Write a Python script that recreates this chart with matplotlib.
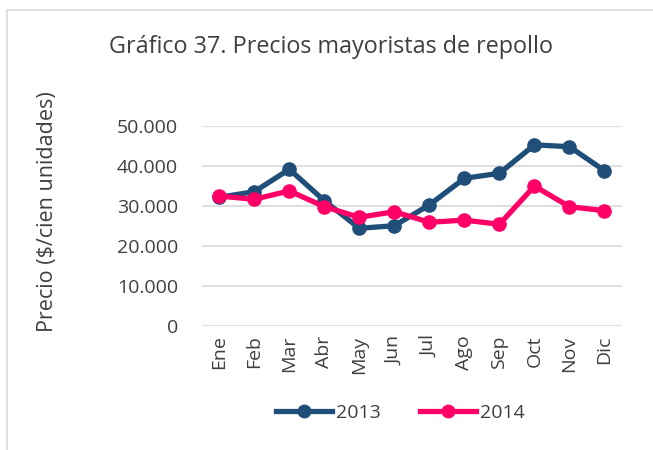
import matplotlib
matplotlib.use("Agg")
import matplotlib.pyplot as plt
from matplotlib.lines import Line2D
from matplotlib.ticker import FuncFormatter

plt.rcParams["font.family"] = ["Open Sans", "DejaVu Sans"]

meses = ["Ene", "Feb", "Mar", "Abr", "May", "Jun",
         "Jul", "Ago", "Sep", "Oct", "Nov", "Dic"]
precios_2013 = [32100, 33500, 39100, 31250, 24350, 25000,
                30200, 36850, 38100, 45200, 44750, 38750]
precios_2014 = [32400, 31600, 33700, 29750, 27100, 28500,
                25850, 26400, 25350, 34900, 29750, 28750]
y_ticks = [0, 10000, 20000, 30000, 40000, 50000]

color_2013 = "#1F4E79"
color_2014 = "#FF0066"
text_color = "#3F3F3F"

fig = plt.figure(figsize=(6.53, 4.5), dpi=100)
ax = fig.add_axes([0.309, 0.2762, 0.6435, 0.4445])

x = range(len(meses))
ax.plot(x, precios_2013, color=color_2013, linewidth=3.8, marker="o",
        markersize=9.5, label="2013", solid_capstyle="round", zorder=3)
ax.plot(x, precios_2014, color=color_2014, linewidth=3.8, marker="o",
        markersize=9.5, label="2014", solid_capstyle="round", zorder=4)

ax.set_xlim(-0.5, len(meses) - 0.5)
ax.set_ylim(0, 50000)
ax.set_yticks(y_ticks)
ax.yaxis.set_major_formatter(FuncFormatter(
    lambda v, p: "0" if v == 0 else f"{int(v):,}".replace(",", ".")))
ax.set_xticks(list(x))
ax.set_xticklabels(meses, rotation=90, va="top", ha="center")

ax.grid(axis="y", color="#D9D9D9", linewidth=1.2)
ax.set_axisbelow(True)
for s in ["top", "right", "left", "bottom"]:
    ax.spines[s].set_visible(False)
ax.tick_params(axis="both", length=0, labelsize=14, colors=text_color)
ax.tick_params(axis="y", pad=17)
ax.tick_params(axis="x", pad=7)

ax.set_ylabel("Precio ($/cien unidades)", fontsize=15.5, color=text_color)
ax.yaxis.set_label_coords(-0.343, 0.57)

fig.text(0.507, 0.896, "Gráfico 37. Precios mayoristas de repollo",
         ha="center", va="center", fontsize=16.8, color=text_color)

handles = [Line2D([], [], color=color_2013, linewidth=3.8, marker="o", markersize=9),
           Line2D([], [], color=color_2014, linewidth=3.8, marker="o", markersize=9)]
fig.legend(handles, ["2013", "2014"], loc="center", bbox_to_anchor=(0.613, 0.082),
           ncol=2, frameon=False, fontsize=14, handlelength=2.9,
           columnspacing=2.0, handletextpad=0.2, labelcolor=text_color)

# borde del grafico
fig.add_artist(Line2D([0.011, 0.011], [0.0, 0.978], color="#D9D9D9",
                      linewidth=1.2, transform=fig.transFigure))
fig.add_artist(Line2D([0.011, 1.0], [0.978, 0.978], color="#D9D9D9",
                      linewidth=1.2, transform=fig.transFigure))

fig.savefig("out.png", dpi=100)
